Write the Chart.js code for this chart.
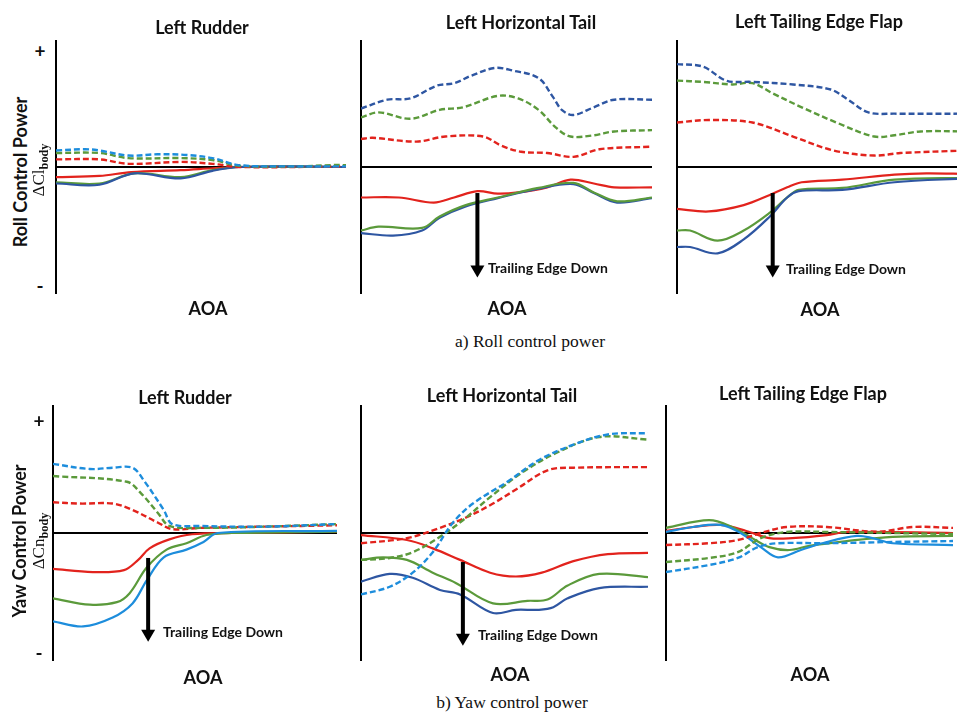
<!DOCTYPE html>
<html><head><meta charset="utf-8">
<script src="https://cdn.jsdelivr.net/npm/chart.js@4.4.1/dist/chart.umd.min.js"></script>
<style>
html,body{margin:0;padding:0;width:957px;height:715px;overflow:hidden;background:#fff;}
.t{position:absolute;font-family:Lato,"Open Sans",sans-serif;font-weight:700;color:#111;white-space:nowrap;line-height:1;transform:translate(-50%,-50%);}
.s{position:absolute;font-family:"Liberation Serif","Times New Roman",serif;color:#111;white-space:nowrap;line-height:1;transform:translate(-50%,-50%);}
.s sub{font-size:0.72em;font-weight:700;vertical-align:-0.3em;}
.t.l{transform:translate(0,-50%);}
.t.r,.s.r{transform:translate(-50%,-50%) rotate(-90deg);}
canvas{position:absolute;}
</style></head><body>

<canvas id="c1"></canvas><canvas id="c2"></canvas><canvas id="c3"></canvas>
<canvas id="c4"></canvas><canvas id="c5"></canvas><canvas id="c6"></canvas>

<div class="t" style="left:202px;top:27px;font-size:18px">Left Rudder</div>
<div class="t" style="left:521px;top:22px;font-size:18px">Left Horizontal Tail</div>
<div class="t" style="left:819px;top:21px;font-size:18px">Left Tailing Edge Flap</div>
<div class="t" style="left:40px;top:50px;font-size:19px">+</div>
<div class="t" style="left:40px;top:285px;font-size:19px">-</div>
<div class="t r" style="left:20px;top:172px;font-size:18px">Roll Control Power</div>
<div class="s r" style="left:40px;top:170px;font-size:17px">ΔCl<sub>body</sub></div>
<div class="t" style="left:208px;top:308px;font-size:18px">AOA</div>
<div class="t" style="left:507px;top:308px;font-size:18px">AOA</div>
<div class="t" style="left:820px;top:309px;font-size:18px">AOA</div>
<div class="t l" style="left:488px;top:268px;font-size:14px">Trailing Edge Down</div>
<div class="t l" style="left:786px;top:269px;font-size:14px">Trailing Edge Down</div>
<div class="s" style="left:530px;top:342px;font-size:17.5px">a) Roll control power</div>

<div class="t" style="left:185px;top:397px;font-size:18px">Left Rudder</div>
<div class="t" style="left:502px;top:395px;font-size:18px">Left Horizontal Tail</div>
<div class="t" style="left:803px;top:393px;font-size:18px">Left Tailing Edge Flap</div>
<div class="t" style="left:39px;top:420px;font-size:19px">+</div>
<div class="t" style="left:39px;top:652px;font-size:19px">-</div>
<div class="t r" style="left:19px;top:541px;font-size:18px">Yaw Control Power</div>
<div class="s r" style="left:40px;top:541px;font-size:17px">ΔCn<sub>body</sub></div>
<div class="t" style="left:203px;top:677px;font-size:18px">AOA</div>
<div class="t" style="left:510px;top:674px;font-size:18px">AOA</div>
<div class="t" style="left:810px;top:674px;font-size:18px">AOA</div>
<div class="t l" style="left:163px;top:632px;font-size:14px">Trailing Edge Down</div>
<div class="t l" style="left:478px;top:635px;font-size:14px">Trailing Edge Down</div>
<div class="s" style="left:512px;top:703px;font-size:17.5px">b) Yaw control power</div>

<script>
// ---- DATA: [AOA (0-100, arbitrary), delta coefficient (-100..100, arbitrary)] ----
// a) Roll - Left Rudder
const rollRudderBlueDash  = [[0,13],[10,14],[15,13],[25,9],[35,10],[45,9.5],[54,7],[63,1.5],[80,0.5],[100,0.5]];
const rollRudderGreenDash = [[0,11],[15,11],[25,7],[43,7],[54,5.5],[63,1],[84,0.5],[95,1.5],[100,1.5]];
const rollRudderRedDash   = [[0,6],[15,6],[25,2.5],[43,4],[54,2.5],[63,0],[100,0.5]];
const rollRudderRed       = [[0,-8],[15,-7],[26,-4],[43,-2.5],[54,-1],[63,0],[100,0]];
const rollRudderGreen     = [[0,-12],[15,-13],[27,-5],[43,-8],[54,-2.5],[63,0],[100,0]];
const rollRudderBlue      = [[0,-13],[15,-14],[27,-5],[43,-9],[54,-3],[63,0],[84,0.5],[100,0]];
// a) Roll - Left Horizontal Tail
const rollHTailBlueDash  = [[0,46],[9,53],[17,54],[26,64],[32,66],[38,72],[46,78],[52,76],[61,70],[66,55],[69,45],[73,41],[80,47],[87,53],[100,53]];
const rollHTailGreenDash = [[0,39],[6,43],[17,38],[27,45],[35,47],[47,56],[54,54],[61,45],[67,31],[72,24],[80,25],[87,28],[100,29]];
const rollHTailRedDash   = [[0,22],[4,23],[19,20],[29,24],[42,24],[48,17],[55,12],[64,11],[73,8],[82,14],[100,16]];
const rollHTailRed       = [[0,-24],[13,-24],[25,-28],[32,-24],[40,-19],[47,-21],[54,-20],[64,-16],[72,-10],[80,-13],[87,-16],[100,-16]];
const rollHTailGreen     = [[0,-50],[6,-47],[21,-48],[27,-39],[36,-30],[47,-24],[61,-16.5],[73,-12.5],[80,-20],[88,-27],[100,-24]];
const rollHTailBlue      = [[0,-52],[11,-54],[21,-50],[27,-40],[36,-31],[47,-24.5],[61,-17],[73,-13.5],[80,-20.5],[88,-28],[100,-24.5]];
const rollHTailArrow     = [40,-20.5,-87];
// a) Roll - Left Trailing Edge Flap
const rollFlapBlueDash  = [[0,81],[9,79],[17,68],[26,67],[40,65],[53,61],[59,53],[66,43],[75,42],[100,42]];
const rollFlapGreenDash = [[0,68],[9,67],[19,65],[26,66],[33,58],[43,47],[55,35],[68,24],[75,25],[84,28],[100,28]];
const rollFlapRedDash   = [[0,35],[11,37],[26,35],[40,24],[54,13],[68,9],[77,11],[100,13]];
const rollFlapRed       = [[0,-33],[11,-35],[23,-30],[32,-22],[38,-16],[43,-12],[57,-10],[75,-6],[86,-5],[100,-5.5]];
const rollFlapGreen     = [[0,-50],[4.5,-50],[14,-58],[23,-50],[32,-36],[38,-24],[42,-18],[57,-16.5],[75,-10],[100,-8.5]];
const rollFlapBlue      = [[0,-63],[4.5,-63],[14,-68],[23,-57],[32,-39],[38,-24],[42,-19],[57,-18],[75,-12],[100,-9]];
const rollFlapArrow     = [33,-20.5,-87];
// b) Yaw - Left Rudder
const yawRudderBlueDash  = [[0,54],[13,50],[21,51],[28,51],[32,41],[39,18],[42,7],[52,5.5],[75,5],[100,7]];
const yawRudderGreenDash = [[0,44.5],[26,40],[31,31],[37,15.5],[41,5.5],[52,4],[75,5],[100,7]];
const yawRudderRedDash   = [[0,24],[9.5,23],[21,23],[28,18],[37,8],[42,3],[52,4],[75,5],[100,6]];
const yawRudderRed       = [[0,-28],[14,-30.5],[25,-29],[30,-21],[34,-12],[41,-5],[49,-1],[63,0],[100,1]];
const yawRudderGreen     = [[0,-51],[13,-56],[22.5,-54],[27,-47],[33,-27],[40,-13],[47,-8],[54,-1.6],[63,0],[100,1]];
const yawRudderBlue      = [[0,-69],[10.6,-73],[21,-66],[28,-55],[33,-37],[39,-19],[47,-13],[53,-7],[58,0],[100,1.6]];
const yawRudderArrow     = [33.5,-19.5,-85];
// b) Yaw - Left Horizontal Tail
const yawHTailBlueDash  = [[0,-48],[10,-42],[18,-31],[25,-15],[32,8],[39,23],[51,40],[62,57],[74,69],[86,77],[100,78]];
const yawHTailGreenDash = [[0,-21],[10,-19.5],[18,-15],[27.5,-3],[35.5,10],[45,28],[56,47],[68,62.5],[83,75],[100,73]];
const yawHTailRedDash   = [[0,-8],[16,-4],[27.5,4],[37,12.5],[46,23],[54,34],[65,49],[74,51],[100,51.5]];
const yawHTailRed       = [[0,-1.6],[16,-5.5],[25,-12],[34.5,-21],[45,-31],[54,-34],[63,-31],[74,-22],[86,-16.5],[100,-15.5]];
const yawHTailGreen     = [[0,-21],[7.7,-19],[16,-21],[25,-31],[33,-39],[46,-55],[58,-53],[65,-52],[72,-41],[83,-32],[100,-34.5]];
const yawHTailBlue      = [[0,-38],[10,-32],[18,-35],[27.5,-44.5],[34.5,-48],[46,-62.5],[54,-60],[62,-60],[67,-58],[72,-51],[83,-43],[100,-42]];
const yawHTailArrow     = [35.5,-22.7,-88];
// b) Yaw - Left Trailing Edge Flap
const yawFlapBlueDash  = [[0,-30.5],[15,-25],[25,-19.5],[32,-11],[39,-8],[56,-8],[79,-7],[100,-6.3]];
const yawFlapGreenDash = [[0,-22.7],[15,-19.5],[25,-15],[33,-4],[42,0.8],[56,0.8],[79,0],[100,-0.8]];
const yawFlapRedDash   = [[0,-9.4],[15,-8],[25,-5.5],[33,0],[42,4.7],[56,4.7],[73.5,1],[86,4.7],[100,4]];
const yawFlapRed       = [[0,1.6],[9.4,4.7],[19,6.3],[28,1.6],[36,-4],[44,-4],[56,-1.6],[63,0.8],[100,0]];
const yawFlapGreen     = [[0,4],[15,10],[23,4.7],[30,-4],[36,-11],[43,-13.3],[50,-10],[63,-6.3],[79,-3],[100,-2.3]];
const yawFlapBlue      = [[0,0.8],[9.4,4.7],[19,6.3],[26,0],[33,-11],[39,-19],[47,-13.3],[56,-7],[66.5,-2.3],[72,-4],[79,-8],[100,-9.4]];

// ---- STYLE ----
const RED='#e2231d', GREEN='#5b9a3b', DBLUE='#2e56a2', LBLUE='#1d8ddc';
const PAD=6;

const framePlugin={
  id:'frame',
  beforeDatasetsDraw(chart){
    const {ctx,chartArea:a,scales:{x,y}}=chart;
    const x0=x.getPixelForValue(0), x1=x.getPixelForValue(100), y0=y.getPixelForValue(0);
    ctx.save();ctx.strokeStyle='#000';ctx.lineWidth=2;
    ctx.beginPath();ctx.moveTo(x0,a.top);ctx.lineTo(x0,a.bottom);ctx.stroke();
    ctx.beginPath();ctx.moveTo(x0,y0);ctx.lineTo(x1,y0);ctx.stroke();
    ctx.restore();
  },
  afterDatasetsDraw(chart){
    const arr=chart.options.plugins.frame && chart.options.plugins.frame.arrow;
    if(!arr) return;
    const {ctx,scales:{x,y}}=chart;
    const px=x.getPixelForValue(arr[0]), py1=y.getPixelForValue(arr[1]), py2=y.getPixelForValue(arr[2]);
    const hl=12, hw=7;
    ctx.save();ctx.strokeStyle='#000';ctx.fillStyle='#000';ctx.lineWidth=4;
    ctx.beginPath();ctx.moveTo(px,py1);ctx.lineTo(px,py2-hl+1);ctx.stroke();
    ctx.beginPath();ctx.moveTo(px-hw,py2-hl);ctx.lineTo(px+hw,py2-hl);ctx.lineTo(px,py2);ctx.closePath();ctx.fill();
    ctx.restore();
  }
};

function ds(data,color,dashed){
  return {data,borderColor:color,borderWidth:dashed?2.4:2.2,borderDash:dashed?[6,3]:[],
    pointRadius:0,fill:false,tension:0.35};
}

function panel(id,left,top,w,h,series,arrow){
  const c=document.getElementById(id);
  c.width=w+2*PAD;c.height=h+2*PAD;
  c.style.left=(left-PAD)+'px';c.style.top=(top-PAD)+'px';
  new Chart(c,{type:'line',
    data:{datasets:series},
    options:{responsive:false,animation:false,devicePixelRatio:1,
      layout:{padding:PAD},
      plugins:{legend:{display:false},tooltip:{enabled:false},frame:{arrow}},
      scales:{x:{type:'linear',min:0,max:100,display:false},y:{min:-100,max:100,display:false}}},
    plugins:[framePlugin]});
}

panel('c1',56,40,290,254,[
  ds(rollRudderBlueDash,LBLUE,true),ds(rollRudderGreenDash,GREEN,true),ds(rollRudderRedDash,RED,true),
  ds(rollRudderBlue,DBLUE,false),ds(rollRudderGreen,GREEN,false),ds(rollRudderRed,RED,false)],null);
panel('c2',361,40,291,254,[
  ds(rollHTailBlueDash,DBLUE,true),ds(rollHTailGreenDash,GREEN,true),ds(rollHTailRedDash,RED,true),
  ds(rollHTailGreen,GREEN,false),ds(rollHTailBlue,DBLUE,false),ds(rollHTailRed,RED,false)],rollHTailArrow);
panel('c3',677,40,290,254,[
  ds(rollFlapBlueDash,DBLUE,true),ds(rollFlapGreenDash,GREEN,true),ds(rollFlapRedDash,RED,true),
  ds(rollFlapBlue,DBLUE,false),ds(rollFlapGreen,GREEN,false),ds(rollFlapRed,RED,false)],rollFlapArrow);
panel('c4',53,405,284,256,[
  ds(yawRudderBlueDash,LBLUE,true),ds(yawRudderGreenDash,GREEN,true),ds(yawRudderRedDash,RED,true),
  ds(yawRudderBlue,LBLUE,false),ds(yawRudderGreen,GREEN,false),ds(yawRudderRed,RED,false)],yawRudderArrow);
panel('c5',361,405,287,256,[
  ds(yawHTailBlueDash,LBLUE,true),ds(yawHTailGreenDash,GREEN,true),ds(yawHTailRedDash,RED,true),
  ds(yawHTailBlue,DBLUE,false),ds(yawHTailGreen,GREEN,false),ds(yawHTailRed,RED,false)],yawHTailArrow);
panel('c6',666,405,287,256,[
  ds(yawFlapBlueDash,LBLUE,true),ds(yawFlapGreenDash,GREEN,true),ds(yawFlapRedDash,RED,true),
  ds(yawFlapBlue,LBLUE,false),ds(yawFlapGreen,GREEN,false),ds(yawFlapRed,RED,false)],null);
</script>
</body></html>
